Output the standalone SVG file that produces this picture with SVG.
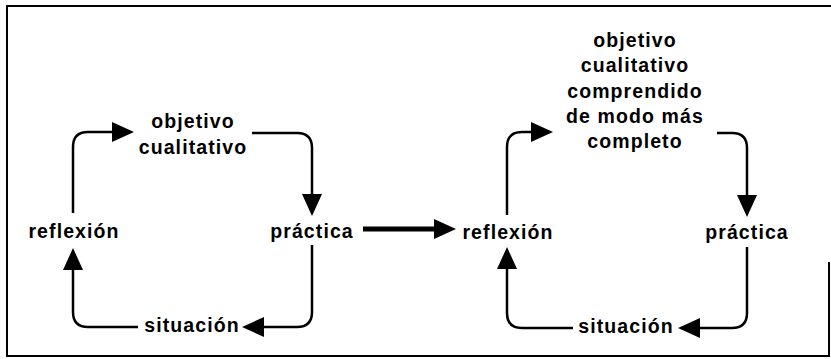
<svg xmlns="http://www.w3.org/2000/svg" width="831" height="359" viewBox="0 0 831 359">
<style>
.t{font-family:"Liberation Sans",Arial,sans-serif;font-weight:bold;font-size:19.5px;letter-spacing:1.1px;fill:#000;text-anchor:middle}
.c{fill:none;stroke:#000;stroke-width:2.5}
.m{fill:none;stroke:#000;stroke-width:5}
.f{fill:none;stroke:#000;stroke-width:2}
</style>
<defs>
<marker id="ah" markerUnits="userSpaceOnUse" markerWidth="22" markerHeight="20" refX="0" refY="10" orient="auto" viewBox="0 0 22 20">
<path d="M0,0 L22,10 L0,20 z" fill="#000"/>
</marker>
</defs>
<rect width="831" height="359" fill="#fff"/>
<path class="f" d="M829,262 V356 H7 V6 H831"/>
<g id="left-objetivo"><text class="t" x="193" y="128">objetivo</text><text class="t" x="193" y="154">cualitativo</text></g>
<g id="left-practica"><text class="t" x="312" y="238">práctica</text></g>
<g id="left-situacion"><text class="t" x="192" y="332">situación</text></g>
<g id="left-reflexion"><text class="t" x="74" y="238">reflexión</text></g>
<g id="right-objetivo"><text class="t" x="635" y="47">objetivo</text><text class="t" x="635" y="72">cualitativo</text><text class="t" x="635" y="98">comprendido</text><text class="t" x="635" y="123">de modo más</text><text class="t" x="635" y="148">completo</text></g>
<g id="right-practica"><text class="t" x="747" y="239">práctica</text></g>
<g id="right-situacion"><text class="t" x="626" y="333">situación</text></g>
<g id="right-reflexion"><text class="t" x="508" y="239">reflexión</text></g>
<g id="connectors">
<path class="c" marker-end="url(#ah)" d="M73,213 V147 Q73,132 88,132 H112"/>
<path class="c" marker-end="url(#ah)" d="M252,133 H297 Q312,133 312,148 V194"/>
<path class="c" marker-end="url(#ah)" d="M312,245 V312 Q312,327 297,327 H264"/>
<path class="c" marker-end="url(#ah)" d="M138,327 H88 Q73,327 73,312 V270"/>
<path class="m" marker-end="url(#ah)" d="M363,229 H434"/>
<path class="c" marker-end="url(#ah)" d="M507,215 V147 Q507,132 522,132 H531"/>
<path class="c" marker-end="url(#ah)" d="M717,133 H732 Q747,133 747,148 V195"/>
<path class="c" marker-end="url(#ah)" d="M747,247 V313 Q747,328 732,328 H700"/>
<path class="c" marker-end="url(#ah)" d="M573,328 H522 Q507,328 507,313 V269"/>
</g>
</svg>
